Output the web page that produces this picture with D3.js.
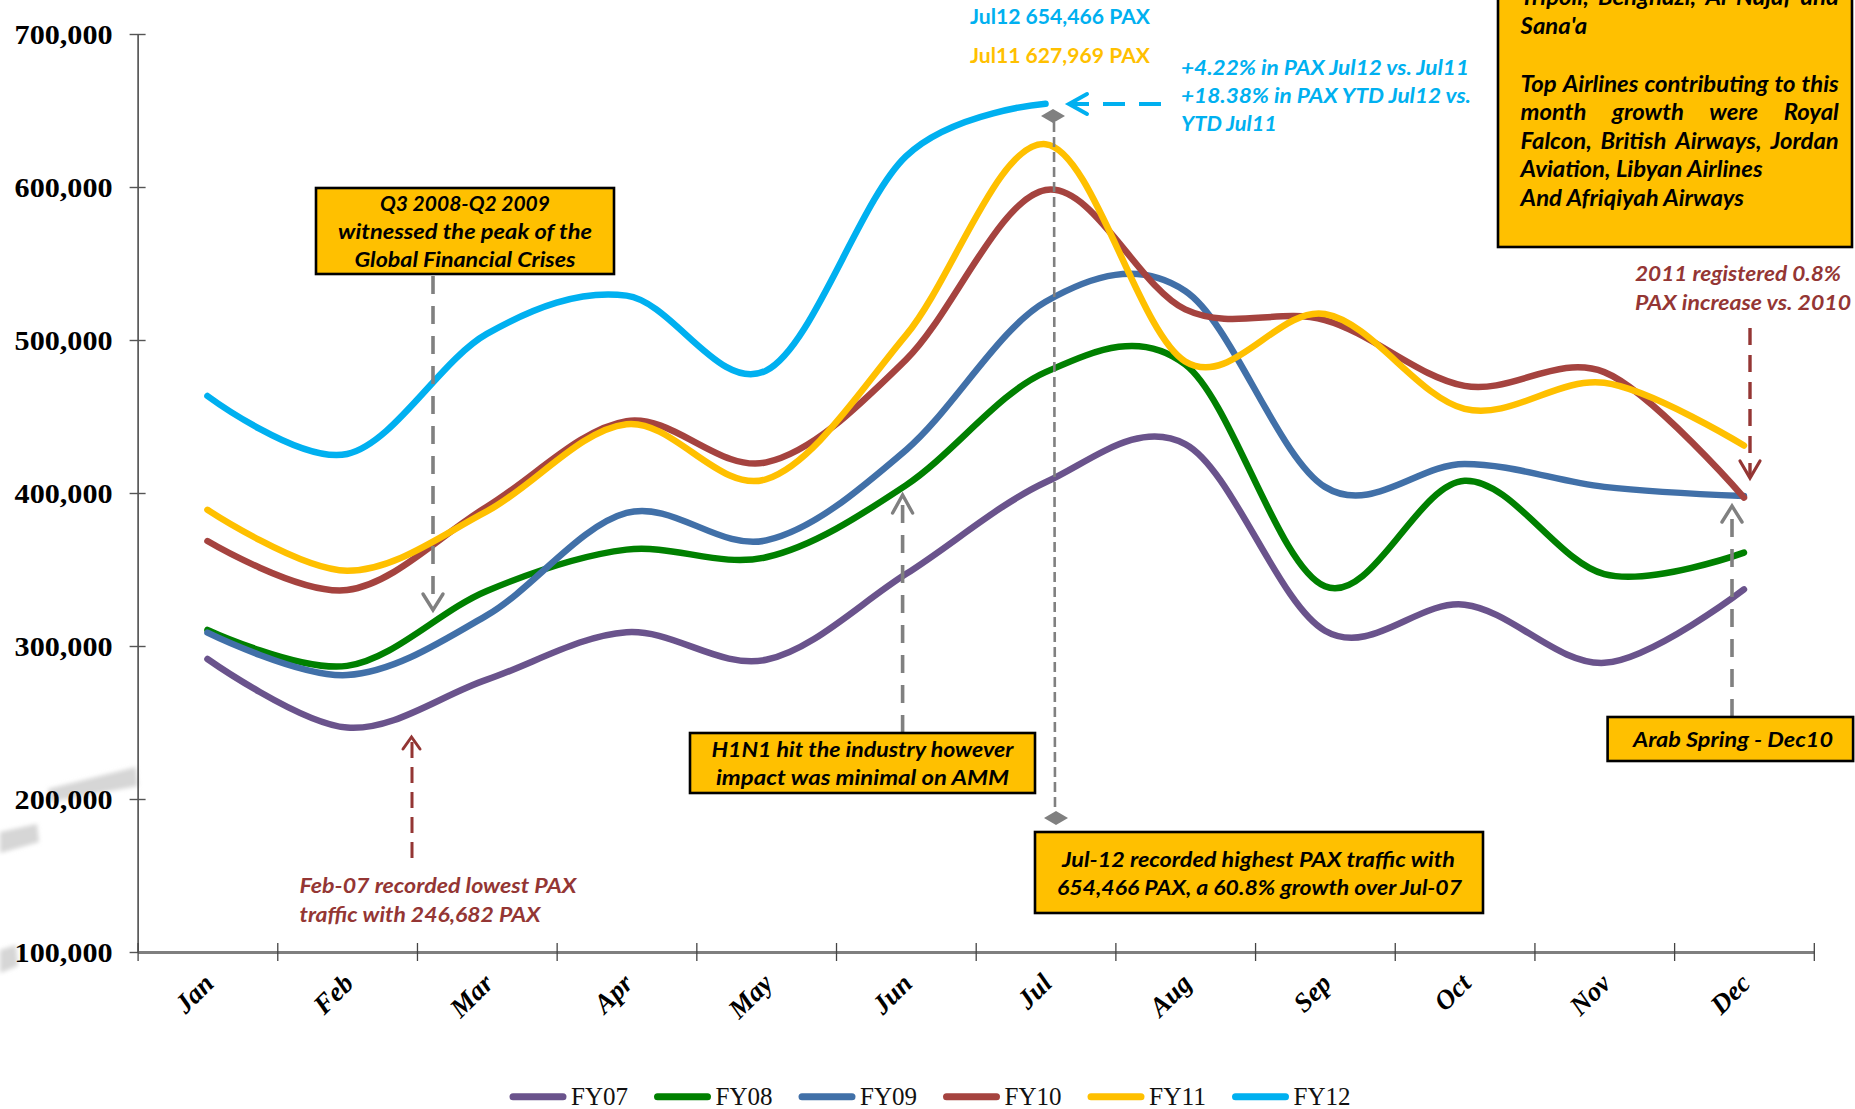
<!DOCTYPE html>
<html><head><meta charset="utf-8">
<script src="https://cdn.jsdelivr.net/npm/d3@7/dist/d3.min.js"></script>
<style>html,body{margin:0;padding:0;background:#fff;overflow:hidden}svg{display:block}</style>
</head><body>
<svg id="chart" width="1855" height="1109"></svg>
<script>
// ---------- DATA ----------
const months = ["Jan","Feb","Mar","Apr","May","Jun","Jul","Aug","Sep","Oct","Nov","Dec"];
const seriesNames = ["FY07","FY08","FY09","FY10","FY11","FY12"];
const fy07 = [291500, 246682, 278000, 309000, 291000, 347000, 407000, 432000, 310000, 327000, 289000, 337000];
const fy08 = [310500, 287000, 336000, 363000, 358000, 405000, 479000, 484000, 339000, 408000, 347000, 361000];
const fy09 = [308700, 281000, 320000, 387000, 369000, 428000, 525000, 532000, 404000, 419000, 404000, 398000];
const fy10 = [368600, 336600, 391000, 447000, 420000, 487000, 598000, 520000, 513000, 470000, 479000, 397000];
const fy11 = [389000, 349200, 388000, 445000, 409000, 503000, 627969, 486000, 517000, 455000, 472000, 431000];
const fy12 = [463400, 425500, 504000, 529000, 480000, 620000, 654466];
const yTickValues = [100000, 200000, 300000, 400000, 500000, 600000, 700000];
const seriesColors = ["#6A538C", "#008000", "#4170A8", "#A5433F", "#FFC000", "#00B0F0"];

const seriesData = [fy07, fy08, fy09, fy10, fy11, fy12];

// ---------- SETUP ----------
const svg = d3.select("#chart");
const X0 = 137.6, X1 = 1813.8, Y0 = 952, Y1 = 34;
const x = d3.scaleBand().domain(months).range([X0, X1]).paddingInner(0).paddingOuter(0);
const xEdge = d3.scaleLinear().domain([0, months.length]).range([X0, X1]);
const y = d3.scaleLinear().domain([100000, 700000]).range([Y0, Y1]);
const xc = m => x(m) + x.bandwidth() / 2;

// background smudges (scan artefacts)
const defs = svg.append("defs");
defs.append("filter").attr("id", "blur").append("feGaussianBlur").attr("stdDeviation", 2);
const smudges = [
  [[48,789],[136,767],[138,786],[50,802]],
  [[0,832],[37,824],[39,842],[0,853]],
  [[0,950],[16,945],[18,966],[0,973]]
];
svg.append("g").selectAll("path").data(smudges).join("path")
  .attr("d", d => d3.line()(d) + "Z").attr("fill", "#d6d6d6").attr("filter", "url(#blur)");

// ---------- AXES ----------
const yAxis = svg.append("g").attr("transform", `translate(${X0},0)`)
  .call(d3.axisLeft(y).tickValues(yTickValues).tickSize(0).tickFormat(d3.format(",")));
yAxis.select(".domain").attr("stroke", "#333").attr("stroke-width", 1.4);
yAxis.selectAll(".tick line").attr("x1", -8).attr("x2", 8).attr("stroke", "#555").attr("stroke-width", 1.4);
yAxis.selectAll(".tick text")
  .attr("x", -25).attr("dy", null).attr("y", 9.5)
  .attr("font-family", "'Liberation Serif', 'Times New Roman', serif")
  .attr("font-weight", "bold").attr("font-size", 27).attr("fill", "#000")
  .attr("textLength", 98).attr("lengthAdjust", "spacingAndGlyphs");

const xAxis = svg.append("g").attr("transform", `translate(0,${Y0})`)
  .call(d3.axisBottom(xEdge).tickValues(d3.range(0, months.length + 1)).tickSize(0).tickFormat(""));
xAxis.select(".domain").attr("stroke", "#7f7f7f").attr("stroke-width", 2.8);
xAxis.selectAll(".tick line").attr("y1", -9).attr("y2", 9).attr("stroke", "#444").attr("stroke-width", 1.3);

svg.append("g").selectAll("text").data(months).join("text")
  .attr("transform", d => `translate(${xc(d) + 8},985) rotate(-45)`)
  .attr("text-anchor", "end")
  .attr("font-family", "'Liberation Serif', 'Times New Roman', serif")
  .attr("font-weight", "bold").attr("font-style", "italic").attr("font-size", 27)
  .attr("fill", "#000").text(d => d);

// ---------- LINES ----------
const line = d3.line().x((d, i) => xc(months[i])).y(d => y(d)).curve(d3.curveCardinal.tension(0));
svg.append("g").selectAll("path").data(seriesData).join("path")
  .attr("d", d => line(d)).attr("fill", "none")
  .attr("stroke", (d, i) => seriesColors[i]).attr("stroke-width", 6.5)
  .attr("stroke-linecap", "round").attr("stroke-linejoin", "round");

// ---------- LEGEND ----------
const legX = d3.scaleLinear().domain([0, 1]).range([510, 654.5]);
const leg = svg.append("g").selectAll("g").data(seriesNames).join("g")
  .attr("transform", (d, i) => `translate(${legX(i)},1096.7)`);
leg.append("line").attr("x1", 3).attr("x2", 53).attr("stroke", (d, i) => seriesColors[i])
  .attr("stroke-width", 7).attr("stroke-linecap", "round");
leg.append("text").attr("x", 61).attr("y", 8.5).text(d => d)
  .attr("font-family", "'Liberation Serif', 'Times New Roman', serif").attr("font-size", 25)
  .attr("fill", "#111").attr("textLength", 57).attr("lengthAdjust", "spacingAndGlyphs");

// ---------- ANNOTATIONS ----------
const ann = svg.append("g");
const SANS = "Lato, 'Open Sans', sans-serif";
function txt(g, s, tx, ty, o) {
  const t = g.append("text").attr("x", tx).attr("y", ty).text(s)
    .attr("font-family", o.family || SANS).attr("font-size", o.size || 20)
    .attr("font-weight", o.weight || "bold").attr("font-style", o.style || "italic")
    .attr("fill", o.fill || "#000").attr("text-anchor", o.anchor || "start");
  if (o.width) t.attr("textLength", o.width).attr("lengthAdjust", "spacingAndGlyphs");
  return t;
}
function box(g, bx, by, bw, bh) {
  g.append("rect").attr("x", bx).attr("y", by).attr("width", bw).attr("height", bh)
    .attr("fill", "#FFC000").attr("stroke", "#000").attr("stroke-width", 2.6);
}
function dashed(g, pts, color, w, dash) {
  g.append("path").attr("d", d3.line()(pts)).attr("fill", "none").attr("stroke", color)
    .attr("stroke-width", w).attr("stroke-dasharray", dash);
}
function head(g, pts, color, w) {
  g.append("path").attr("d", d3.line()(pts)).attr("fill", "none").attr("stroke", color)
    .attr("stroke-width", w).attr("stroke-linecap", "round").attr("stroke-linejoin", "miter");
}
const GRAY = "#808080", DRED = "#943634", BLUE = "#00B0F0";

// Jul vertical dashed line with diamonds
dashed(ann, [[1054, 122], [1055, 812]], GRAY, 2.6, "10,5");
const diamond = (cx, cy) => [[cx - 12, cy], [cx, cy - 7], [cx + 12, cy], [cx, cy + 7]];
ann.append("path").attr("d", d3.line()(diamond(1053, 116)) + "Z").attr("fill", GRAY);
ann.append("path").attr("d", d3.line()(diamond(1056, 818)) + "Z").attr("fill", GRAY);

// Q3 2008 box + arrow
box(ann, 316, 188, 298, 86);
txt(ann, "Q3 2008-Q2 2009", 465, 211, {anchor: "middle", size: 21, width: 170});
txt(ann, "witnessed the peak of the", 465, 239, {anchor: "middle", size: 21, width: 254});
txt(ann, "Global Financial Crises", 465, 267, {anchor: "middle", size: 21, width: 221});
dashed(ann, [[433, 276], [433, 606]], GRAY, 3.6, "18,12");
head(ann, [[423, 594], [433, 610], [443, 594]], GRAY, 3.4);

// Feb-07 annotation
dashed(ann, [[412, 858], [412, 740]], DRED, 3, "16,9");
head(ann, [[403, 749], [411.5, 737], [420, 749]], DRED, 3);
txt(ann, "Feb-07 recorded lowest PAX", 299.5, 893, {size: 20, fill: DRED, width: 277});
txt(ann, "traffic with 246,682 PAX", 299.5, 921.7, {size: 20, fill: DRED, width: 241});

// H1N1 box + arrow
dashed(ann, [[902.6, 733], [902.6, 498]], GRAY, 3.6, "18,12");
head(ann, [[892.6, 513], [902.6, 495], [912.6, 513]], GRAY, 3.4);
box(ann, 690, 733, 345, 60);
txt(ann, "H1N1 hit the industry however", 862.5, 757, {anchor: "middle", size: 21, width: 302});
txt(ann, "impact was minimal on AMM", 862.5, 785, {anchor: "middle", size: 21, width: 293});

// Jul-12 box
box(ann, 1035, 832, 448, 81);
txt(ann, "Jul-12 recorded highest PAX traffic with", 1258.5, 866.5, {anchor: "middle", size: 21, width: 393});
txt(ann, "654,466 PAX, a 60.8% growth over Jul-07", 1259.5, 895, {anchor: "middle", size: 21, width: 405});

// Jul12 / Jul11 labels
txt(ann, "Jul12 654,466 PAX", 970, 24, {size: 20, style: "normal", fill: BLUE, width: 180});
txt(ann, "Jul11 627,969 PAX", 970, 63, {size: 20, style: "normal", fill: "#FFC000", width: 180});

// blue arrow + growth text
dashed(ann, [[1161, 104], [1072, 104]], BLUE, 4, "22,14");
head(ann, [[1087, 94], [1069, 104], [1087, 114]], BLUE, 4);
txt(ann, "+4.22% in PAX Jul12 vs. Jul11", 1181, 75, {size: 20, fill: BLUE, width: 288});
txt(ann, "+18.38% in PAX YTD Jul12 vs.", 1181, 103, {size: 20, fill: BLUE, width: 290});
txt(ann, "YTD Jul11", 1181, 131, {size: 20, fill: BLUE, width: 96});

// Top-right box (clipped by the top edge as in the original)
box(ann, 1498, -10, 354, 257);
(function () {
  const o = {size: 22};
  const measure = s => { const t = txt(ann, s, 0, -100, o); const l = t.node().getComputedTextLength(); t.remove(); return l; };
  const k = 242 / measure("Aviation, Libyan Airlines");
  const L = 1520.6, R = 1838.8;
  function justify(lineStr, by) {
    const words = lineStr.split(" ");
    const ws = words.map(w => measure(w) * k);
    const gap = (R - L - d3.sum(ws)) / (words.length - 1);
    let cx = L;
    words.forEach((w, i) => { txt(ann, w, cx, by, {...o, width: ws[i]}); cx += ws[i] + gap; });
  }
  function plain(s, by) { txt(ann, s, L, by, {...o, width: measure(s) * k}); }
  justify("Tripoli, Benghazi, Al Najaf and", 5);
  plain("Sana'a", 33.5);
  justify("Top Airlines contributing to this", 91.5);
  justify("month growth were Royal", 120);
  justify("Falcon, British Airways, Jordan", 148.5);
  plain("Aviation, Libyan Airlines", 177);
  plain("And Afriqiyah Airways", 205.5);
})();

// 2011 annotation
txt(ann, "2011 registered 0.8%", 1635, 281, {size: 20, fill: DRED, width: 206});
txt(ann, "PAX increase vs. 2010", 1635, 309.5, {size: 20, fill: DRED, width: 216});
dashed(ann, [[1750, 328], [1750, 476]], DRED, 3.4, "17,10");
head(ann, [[1740, 461], [1750, 478], [1760, 461]], DRED, 3.2);

// Arab Spring box + arrow
dashed(ann, [[1732, 717], [1732, 510]], GRAY, 3.6, "18,12");
head(ann, [[1722, 522], [1732, 506], [1742, 522]], GRAY, 3.4);
box(ann, 1607.6, 717, 245.5, 44);
txt(ann, "Arab Spring - Dec10", 1733, 746.7, {anchor: "middle", size: 20, width: 200});
</script>
</body></html>
